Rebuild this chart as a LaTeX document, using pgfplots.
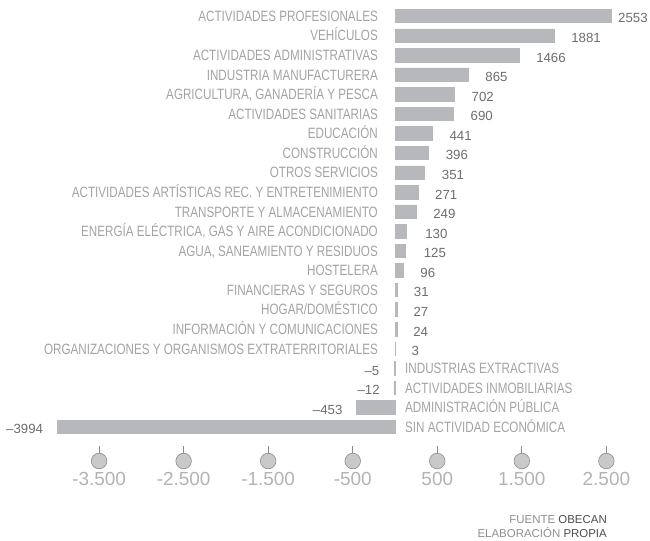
\documentclass[border=0pt]{standalone}
\usepackage{pgfplots}
\pgfplotsset{compat=1.18}
\usepackage{pgfplotstable}
\usepackage{fontspec}
\setmainfont{Liberation Sans}
\newfontfamily\condfont{Liberation Sans}[FakeStretch=0.78]

\definecolor{barcol}{HTML}{B7B8BB}
\definecolor{catcol}{HTML}{A3A3A3}
\definecolor{valcol}{HTML}{6D6D6D}
\definecolor{tickcol}{HTML}{B3B3B3}
\definecolor{tickline}{HTML}{8A8A8A}
\definecolor{dotfill}{HTML}{C9C9CB}
\definecolor{dotdraw}{HTML}{8C8C8C}
\definecolor{srcl}{HTML}{8F8F8F}
\definecolor{srcd}{HTML}{4D4D4D}

\pgfplotstableread[col sep=semicolon]{
y;val;vlab;dx;cat
21;2553;2553;7;ACTIVIDADES PROFESIONALES
20;1881;1881;17;VEHÍCULOS
19;1466;1466;17;ACTIVIDADES ADMINISTRATIVAS
18;865;865;17;INDUSTRIA MANUFACTURERA
17;702;702;17;AGRICULTURA, GANADERÍA Y PESCA
16;690;690;17;ACTIVIDADES SANITARIAS
15;441;441;17;EDUCACIÓN
14;396;396;17;CONSTRUCCIÓN
13;351;351;17;OTROS SERVICIOS
12;271;271;17;ACTIVIDADES ARTÍSTICAS REC. Y ENTRETENIMIENTO
11;249;249;17;TRANSPORTE Y ALMACENAMIENTO
10;130;130;19;ENERGÍA ELÉCTRICA, GAS Y AIRE ACONDICIONADO
9;125;125;18;AGUA, SANEAMIENTO Y RESIDUOS
8;96;96;17;HOSTELERA
7;31;31;16;FINANCIERAS Y SEGUROS
6;27;27;16;HOGAR/DOMÉSTICO
5;24;24;16;INFORMACIÓN Y COMUNICACIONES
4;3;3;16;ORGANIZACIONES Y ORGANISMOS EXTRATERRITORIALES
}\postab

\pgfplotstableread[col sep=semicolon]{
y;val;vlab;dx;cat
3;-5;–5;15;INDUSTRIAS EXTRACTIVAS
2;-12;–12;14;ACTIVIDADES INMOBILIARIAS
1;-453;–453;14;ADMINISTRACIÓN PÚBLICA
0;-3994;–3994;14;SIN ACTIVIDAD ECONÓMICA
}\negtab

\begin{document}
\begin{tikzpicture}
\useasboundingbox (0,0) rectangle (650bp,541bp);
\begin{axis}[
  at={(0,88.3bp)}, anchor=south west,
  scale only axis, width=650bp, height=452.7bp,
  xmin=-4672, xmax=3016,
  ymin=-1.315, ymax=21.8176,
  axis line style={draw=none},
  xtick={-3500,-2500,-1500,-500,500,1500,2500},
  xticklabels={-3.500,-2.500,-1.500,-500,500,1.500,2.500},
  xtick pos=bottom,
  major tick length=0pt,
  ytick=\empty,
  xticklabel style={font=\fontsize{19}{19}\selectfont, text=tickcol, yshift=-16bp},
  clip=false,
  tickseg/.style={draw=tickline, line width=1bp, mark=none, forget plot},
]
% positive bars
\addplot[xbar, bar shift=0pt, bar width=13.5bp, fill=barcol, draw=barcol, line width=0.6bp,
  nodes near coords, point meta=explicit symbolic,
  visualization depends on={\thisrow{dx}\as\dx},
  nodes near coords style={anchor=base west, xshift=\dx bp, yshift=-6.9bp,
    font=\fontsize{13.3}{14}\selectfont, text=valcol, inner sep=0pt}]
  table[x=val, y=y, meta=vlab]{\postab};
% negative bars
\addplot[xbar, bar shift=0pt, bar width=13.5bp, fill=barcol, draw=barcol, line width=0.6bp,
  nodes near coords, point meta=explicit symbolic,
  visualization depends on={\thisrow{dx}\as\dx},
  nodes near coords style={anchor=base east, xshift=-\dx bp, yshift=-6.9bp,
    font=\fontsize{13.3}{14}\selectfont, text=valcol, inner sep=0pt}]
  table[x=val, y=y, meta=vlab]{\negtab};
% category labels (positive, left of zero)
\addplot[draw=none, mark=none,
  nodes near coords, point meta=explicit symbolic,
  nodes near coords style={anchor=base east, xshift=-17bp, yshift=-5.35bp,
    font=\condfont\fontsize{15}{15}\selectfont, text=catcol, inner sep=0pt}]
  table[x expr=0, y=y, meta=cat]{\postab};
% category labels (negative, right of zero)
\addplot[draw=none, mark=none,
  nodes near coords, point meta=explicit symbolic,
  nodes near coords style={anchor=base west, xshift=10bp, yshift=-5.35bp,
    font=\condfont\fontsize{15}{15}\selectfont, text=catcol, inner sep=0pt}]
  table[x expr=0, y=y, meta=cat]{\negtab};
% short tick lines
\addplot[tickseg] coordinates {(-3500,-1.40) (-3500,-0.99)};
\addplot[tickseg] coordinates {(-2500,-1.40) (-2500,-0.99)};
\addplot[tickseg] coordinates {(-1500,-1.40) (-1500,-0.99)};
\addplot[tickseg] coordinates {(-500,-1.40) (-500,-0.99)};
\addplot[tickseg] coordinates {(500,-1.40) (500,-0.99)};
\addplot[tickseg] coordinates {(1500,-1.40) (1500,-0.99)};
\addplot[tickseg] coordinates {(2500,-1.40) (2500,-0.99)};
% tick circles
\addplot[only marks, mark=*, mark size=7.8bp,
  mark options={fill=dotfill, draw=dotdraw, line width=0.6bp}]
  coordinates {(-3500,-1.74) (-2500,-1.74) (-1500,-1.74) (-500,-1.74) (500,-1.74) (1500,-1.74) (2500,-1.74)};
\end{axis}
\node[anchor=base east, inner sep=0pt, font=\fontsize{11.5}{12}\selectfont] at (607bp,18bp)
  {\textcolor{srcl}{FUENTE} \textcolor{srcd}{OBECAN}};
\node[anchor=base east, inner sep=0pt, font=\fontsize{11.5}{12}\selectfont] at (607bp,4bp)
  {\textcolor{srcl}{ELABORACIÓN} \textcolor{srcd}{PROPIA}};
\end{tikzpicture}
\end{document}
